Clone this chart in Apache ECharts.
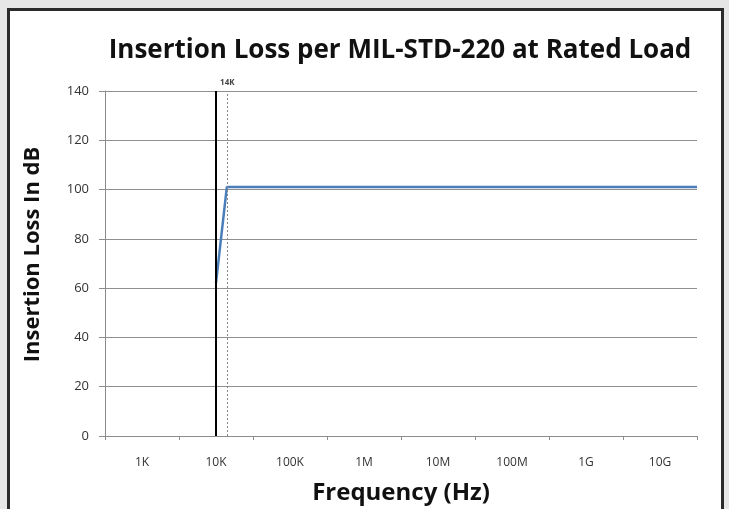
<!DOCTYPE html>
<html>
<head>
<meta charset="utf-8">
<script src="https://cdn.jsdelivr.net/npm/echarts@6/dist/echarts.min.js"></script>
<style>
html,body{margin:0;padding:0;background:#e6e6e6;width:729px;height:509px;overflow:hidden;}
#frame{position:absolute;left:7px;top:8px;width:711px;height:520px;border:3px solid #2b2b2b;background:#fff;}
#chart{position:absolute;left:0;top:0;width:729px;height:509px;}
</style>
</head>
<body>
<div id="frame"></div>
<div id="chart"></div>
<script>
// Category labels on the frequency axis (one per decade)
const categories = ['1K', '10K', '100K', '1M', '10M', '100M', '1G', '10G'];
// Y ticks
const yTicks = [0, 20, 40, 60, 80, 100, 120, 140];
// Insertion loss curve: frequency in Hz, loss in dB
const freqHz = [10000, 14000, 31622776602];
const lossDb = [62, 101, 101];
// Reference markers (Hz)
const markerSolidHz = 10000;
const markerDottedHz = 14000;
const markerDottedLabel = '14K';

const font = 'Open Sans';
const chart = echarts.init(document.getElementById('chart'), null, {renderer: 'canvas'});
const lineData = freqHz.map((f, i) => [Math.log10(f), lossDb[i]]);

chart.setOption({
  animation: false,
  backgroundColor: 'transparent',
  title: {
    text: 'Insertion Loss per MIL-STD-220 at Rated Load',
    left: 395, top: 33, textAlign: 'center',
    textStyle: {fontFamily: font, fontWeight: 'bold', fontSize: 26, color: '#111'}
  },
  grid: {left: 105, right: 32, top: 91, bottom: 73, containLabel: false, outerBoundsMode: 'none'},
  xAxis: [
    {
      type: 'category', data: categories, boundaryGap: true,
      axisLine: {lineStyle: {color: '#8c8c8c', width: 1}},
      axisTick: {show: true, alignWithLabel: false, length: 4, inside: false, lineStyle: {color: '#8c8c8c'}},
      axisLabel: {fontFamily: font, fontSize: 12, color: '#333', margin: 21},
      splitLine: {show: false},
      name: 'Frequency (Hz)', nameLocation: 'middle', nameGap: 45,
      nameTextStyle: {fontFamily: font, fontWeight: 'bold', fontSize: 24, color: '#111'}
    },
    {
      type: 'value', min: 2.5, max: 10.5, show: false
    }
  ],
  yAxis: {
    type: 'value', min: yTicks[0], max: yTicks[yTicks.length - 1], interval: yTicks[1] - yTicks[0],
    axisLine: {show: true, lineStyle: {color: '#8c8c8c'}},
    axisTick: {show: true, length: 6, lineStyle: {color: '#8c8c8c'}},
    axisLabel: {fontFamily: font, fontSize: 13, color: '#333', margin: 16},
    splitLine: {show: true, lineStyle: {color: '#8f8f8f', width: 1}},
    name: 'Insertion Loss In dB', nameLocation: 'middle', nameGap: 61,
    nameTextStyle: {fontFamily: font, fontWeight: 'bold', fontSize: 22, color: '#111', padding: [0, 0, 0, 18]}
  },
  series: [{
    type: 'line', xAxisIndex: 1, data: lineData, symbol: 'none',
    lineStyle: {color: '#4a7ebb', width: 2.5},
    z: 3,
    markLine: {
      silent: true, symbol: 'none', animation: false,
      data: [
        {xAxis: Math.log10(markerSolidHz), lineStyle: {color: '#000', width: 2, type: 'solid'}, label: {show: false}},
        {xAxis: Math.log10(markerDottedHz), lineStyle: {color: '#888', width: 1, type: [2, 2]},
         label: {show: true, formatter: markerDottedLabel, position: 'end', fontFamily: font, fontSize: 8, fontWeight: 'bold', color: '#444', align: 'left', offset: [-7, 1]}}
      ]
    }
  }]
});
</script>
</body>
</html>
